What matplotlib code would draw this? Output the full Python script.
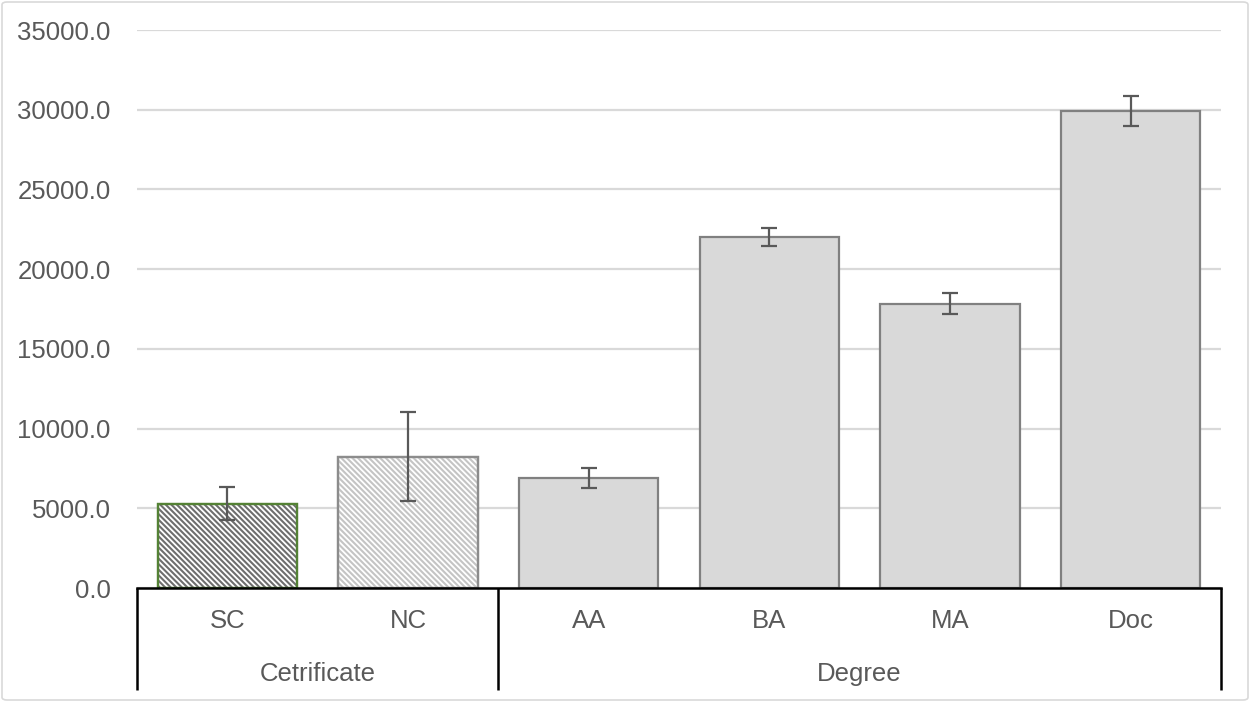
import matplotlib
matplotlib.use("Agg")
import matplotlib.pyplot as plt
from matplotlib.patches import FancyBboxPatch
import matplotlib.transforms as mtransforms

categories = ["SC", "NC", "AA", "BA", "MA", "Doc"]
values = [5270, 8220, 6900, 22020, 17820, 29920]
errors = [1035, 2790, 600, 560, 660, 940]
groups = ["Cetrificate", "Degree"]
group_sizes = [2, 4]
yticks = [0, 5000, 10000, 15000, 20000, 25000, 30000, 35000]

plt.rcParams['font.family'] = ['Liberation Sans', 'DejaVu Sans']
plt.rcParams['hatch.linewidth'] = 1.5

fig = plt.figure(figsize=(12.5, 7.02), dpi=100)
ax = fig.add_axes([137/1250, 1-588/702, (1221-137)/1250, 558/702])

text_col = "#595959"
FS = 18.5
x = list(range(len(categories)))
faces = ["white", "white", "#d9d9d9", "#d9d9d9", "#d9d9d9", "#d9d9d9"]
edges = ["#548235", "#8c8c8c", "#808080", "#808080", "#808080", "#808080"]
hatches = ["\\" * 6, "\\" * 6, None, None, None, None]
hatch_cols = ["#6e6e6e", "#c4c4c4", None, None, None, None]

for i in x:
    ax.bar(i, values[i], width=0.77, color=faces[i], edgecolor=edges[i],
           linewidth=1.6, zorder=2)
    if hatches[i]:
        ax.bar(i, values[i], width=0.77, color="none", edgecolor=hatch_cols[i],
               hatch=hatches[i], linewidth=0, zorder=2.1)
        ax.bar(i, values[i], width=0.77, color="none", edgecolor=edges[i],
               linewidth=1.6, zorder=2.2)

ax.errorbar(x, values, yerr=errors, fmt="none", ecolor="#595959",
            elinewidth=1.6, capsize=6, capthick=1.6, zorder=3)

ax.set_xlim(-0.5, len(categories) - 0.5)
ax.set_ylim(0, 35000)
ax.set_yticks(yticks)
ax.set_yticklabels([f"{v:.1f}" for v in yticks], color=text_col, fontsize=FS)
ax.tick_params(axis="y", length=0, pad=19)
ax.set_xticks([])
ax.grid(axis="y", color="#d9d9d9", linewidth=1.6, zorder=0)
ax.set_axisbelow(True)
for s in ["top", "right", "left"]:
    ax.spines[s].set_visible(False)
ax.spines["bottom"].set_color("black")
ax.spines["bottom"].set_linewidth(1.8)
ax.spines["bottom"].set_zorder(4)

trans = mtransforms.blended_transform_factory(ax.transData, ax.transAxes)
for i, c in enumerate(categories):
    ax.text(i, -0.060, c, transform=trans, ha="center", va="center",
            fontsize=FS, color=text_col)

start = 0
bounds = [-0.5]
for g, n in zip(groups, group_sizes):
    center = start + (n - 1) / 2
    ax.text(center, -0.155, g, transform=trans, ha="center", va="center",
            fontsize=FS, color=text_col)
    start += n
    bounds.append(start - 0.5)
for bnd in bounds:
    ax.plot([bnd, bnd], [0, -0.183], transform=trans, color="black",
            linewidth=1.8, clip_on=False, solid_capstyle="butt")

border = FancyBboxPatch((2/1250, 2/702), 1 - 4/1250, 1 - 4/702,
                        boxstyle="round,pad=0,rounding_size=0.004",
                        transform=fig.transFigure, facecolor="none",
                        edgecolor="#d9d9d9", linewidth=1.2)
fig.patches.append(border)

fig.savefig("out.png", dpi=100)
